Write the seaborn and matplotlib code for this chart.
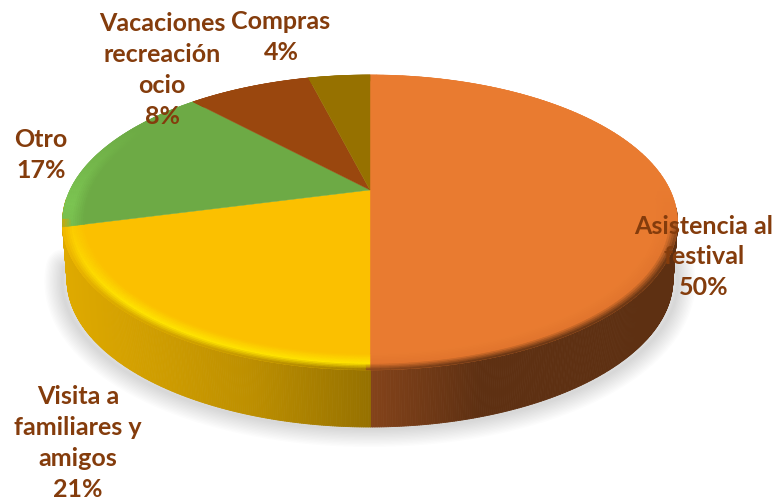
import numpy as np
import matplotlib
matplotlib.use("Agg")
import matplotlib.pyplot as plt
import matplotlib.colors as mcolors
from matplotlib.collections import PolyCollection
import seaborn as sns

sns.set_theme(style="white")
plt.rcParams["font.family"] = ["Lato", "DejaVu Sans"]

# --------------------------------------------------
# Data
# --------------------------------------------------

categories = [
    "Asistencia al\nfestival",
    "Visita a\nfamiliares y\namigos",
    "Otro",
    "Vacaciones\nrecreación\nocio",
    "Compras",
]
percents = [50, 21, 17, 8, 4]

# --------------------------------------------------
# Look of the pie (pixel space of the 774x503 image)
# --------------------------------------------------

palette = sns.color_palette(["#E97B30", "#FBC000", "#6DAA45", "#9A470E", "#967100"])
label_centers = [(704, 257), (78, 443), (41, 155), (162, 70), (281, 37)]
text_color = "#843C0C"

cx, cy = 370, 190
half_w, half_h, persp = 300, 140.4, 0.22
depth = 57

side_stops = [62, 150, 250, 369.9, 370, 480, 680]
side_cols = ["#DFAA00", "#D09E00", "#BD8F00", "#967100", "#84431A", "#5E3012", "#5E3012"]
side_rgb = np.array([mcolors.to_rgb(c) for c in side_cols])

# middle colour of the bevel ramp on each slice
bevel_mid = ["#E2752D", "#FFE400", "#7CC552", "#9A470E", "#967100"]


def rim(frac, r=1.0):
    t = 2 * np.pi * np.asarray(frac)
    u = r * np.sin(t)
    v = -r * np.cos(t)
    w = 1 - persp * v
    return cx + half_w * u / w, cy + half_h * v / w, v


def side_color(x):
    return np.array([np.interp(x, side_stops, side_rgb[:, i]) for i in range(3)])


fig = plt.figure(figsize=(7.74, 5.03), dpi=100)
ax = fig.add_axes([0, 0, 1, 1])
ax.set_xlim(0, 774)
ax.set_ylim(503, 0)
ax.axis("off")

fractions = np.cumsum([0] + percents) / sum(percents)

# --------------------------------------------------
# Soft shadow under the side wall
# --------------------------------------------------

front = np.linspace(0.27, 0.73, 200)
fx, fy, _ = rim(front)
for lw in np.linspace(26, 2, 13):
    ax.plot(fx, fy + depth + 2, color="#000000", alpha=0.012, lw=lw, zorder=1,
            solid_capstyle="round")

# --------------------------------------------------
# Side wall, thin vertical strips coloured by x
# --------------------------------------------------

front = np.linspace(0.27, 0.74, 500)
fx, fy, _ = rim(front)
bx = cx + (fx - cx) * 0.985
quads = []
cols = []
for i in range(len(front) - 1):
    quads.append([(fx[i], fy[i]), (fx[i + 1], fy[i + 1]),
                  (bx[i + 1], fy[i + 1] + depth), (bx[i], fy[i] + depth)])
    cols.append(side_color((fx[i] + fx[i + 1]) / 2))
ax.add_collection(PolyCollection(quads, facecolors=cols, edgecolors=cols,
                                 linewidths=0.6, zorder=2))

# --------------------------------------------------
# Top face with a bevel along the front of the rim
# --------------------------------------------------

ring_edges = np.linspace(0.93, 1.0, 12)
for k, color in enumerate(palette):
    arc = np.linspace(fractions[k], fractions[k + 1], 120)
    x, y, _ = rim(arc)
    ax.fill(np.r_[cx, x], np.r_[cy, y], color=color, lw=0.3, zorder=3)

    quads = []
    cols = []
    base = np.array(color)
    mid = np.array(mcolors.to_rgb(bevel_mid[k]))
    for j in range(len(ring_edges) - 1):
        s = (j + 0.5) / (len(ring_edges) - 1)
        x0, y0, v0 = rim(arc, ring_edges[j])
        x1, y1, _ = rim(arc, ring_edges[j + 1])
        for i in range(len(arc) - 1):
            # the bevel only shows on the part facing the viewer
            if k == 1:
                weight = np.clip(v0[i] / 0.7, 0, 1)
            elif k == 2:
                weight = np.clip(1 - abs(v0[i] - 0.1) / 0.6, 0, 1)
            else:
                weight = np.clip((v0[i] + 0.05) / 0.5, 0, 1)
            end = side_color(x1[i]) if v0[i] > 0.2 else mid
            if s < 0.6:
                c = base + (mid - base) * (s / 0.6)
            else:
                c = mid + (end - mid) * ((s - 0.6) / 0.4)
            c = base + (c - base) * weight
            quads.append([(x0[i], y0[i]), (x0[i + 1], y0[i + 1]),
                          (x1[i + 1], y1[i + 1]), (x1[i], y1[i])])
            cols.append(c)
    ax.add_collection(PolyCollection(quads, facecolors=cols, edgecolors=cols,
                                     linewidths=0.4, zorder=4))

# --------------------------------------------------
# Labels
# --------------------------------------------------

for name, pct, (lx, ly) in zip(categories, percents, label_centers):
    ax.text(lx, ly, f"{name}\n{pct}%", ha="center", va="center", ma="center",
            fontsize=18, fontweight="bold", color=text_color, linespacing=1.42,
            zorder=6)

plt.savefig("out.png", dpi=100)
plt.close()
